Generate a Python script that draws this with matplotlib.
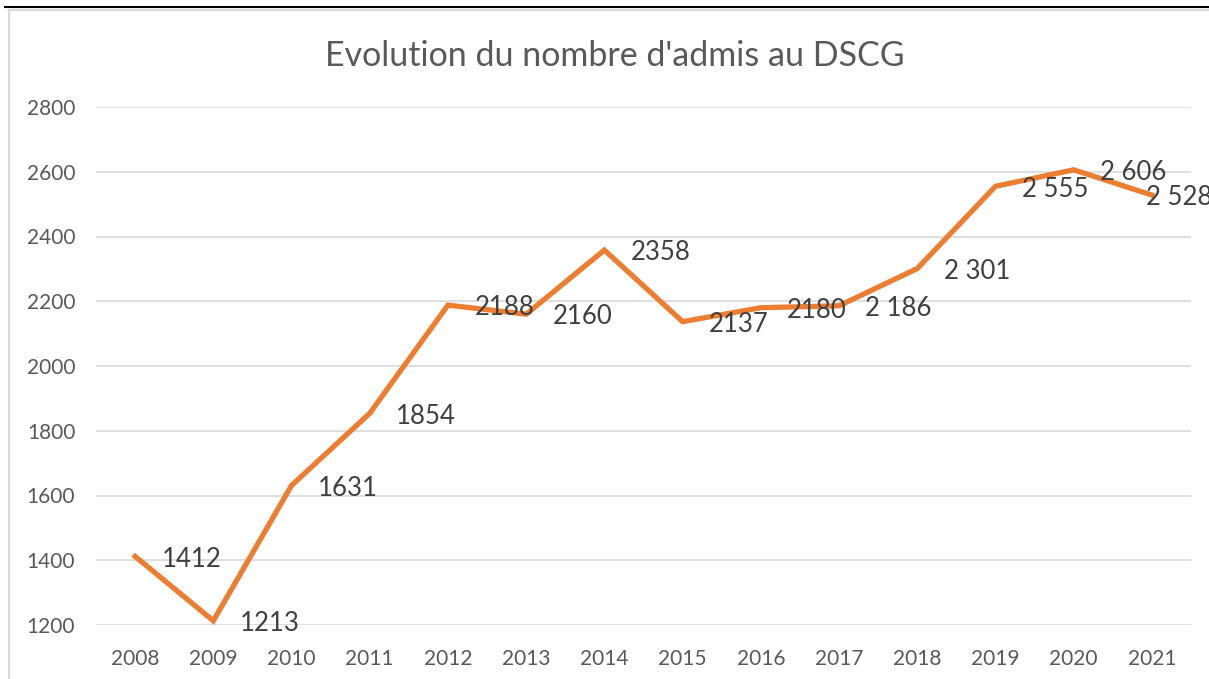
import matplotlib.pyplot as plt
from matplotlib.lines import Line2D

years = [2008, 2009, 2010, 2011, 2012, 2013, 2014, 2015, 2016, 2017, 2018, 2019, 2020, 2021]
admis = [1412, 1213, 1631, 1854, 2188, 2160, 2358, 2137, 2180, 2186, 2301, 2555, 2606, 2528]
labels = ["1412", "1213", "1631", "1854", "2188", "2160", "2358", "2137", "2180",
          "2 186", "2 301", "2 555", "2 606", "2 528"]
yticks = [1200, 1400, 1600, 1800, 2000, 2200, 2400, 2600, 2800]

plt.rcParams['font.family'] = ['Lato', 'DejaVu Sans']

W, H = 1209, 679
fig = plt.figure(figsize=(W / 100, H / 100), dpi=100)

# plot area in pixels: x 96..1191, y 107..625
ax = fig.add_axes([96 / W, 1 - 625 / H, (1191 - 96) / W, (625 - 107) / H])
x = list(range(len(years)))
ax.plot(x, admis, color='#ED7D31', lw=3.8, solid_joinstyle='miter', zorder=3)

ax.set_xlim(-0.5, len(years) - 0.5)
ax.set_ylim(1200, 2800)
ax.set_yticks(yticks)
ax.set_yticklabels([str(v) for v in yticks])
ax.set_xticks(x)
ax.set_xticklabels([str(y) for y in years])
ax.grid(axis='y', color='#D9D9D9', lw=1.2)
ax.set_axisbelow(True)
for s in ax.spines.values():
    s.set_visible(False)
ax.tick_params(length=0, labelsize=15, colors='#595959')
ax.tick_params(axis='x', pad=17)
ax.tick_params(axis='y', pad=15)

# data labels sit to the right of each point (last one pulled back inside)
for i, (v, lab) in enumerate(zip(admis, labels)):
    dx = 19 if i < len(admis) - 1 else -4
    ax.annotate(lab, (i, v), xytext=(dx, -2), textcoords='offset points',
                ha='left', va='center', fontsize=18.5, color='#404040',
                annotation_clip=False, zorder=4)

fig.text(615 / W, 1 - 56 / H, "Evolution du nombre d'admis au DSCG",
         ha='center', va='center', fontsize=24.5, color='#595959')

# chart frame and page line
fig.add_artist(Line2D([9 / W, 9 / W], [0, 1 - 10 / H], color='#D9D9D9', lw=1.5))
fig.add_artist(Line2D([9 / W, 1], [1 - 10 / H, 1 - 10 / H], color='#D9D9D9', lw=1.5))
fig.add_artist(Line2D([5 / W, 1], [1 - 7 / H, 1 - 7 / H], color='black', lw=1.5))

fig.savefig('out.png', dpi=100)
